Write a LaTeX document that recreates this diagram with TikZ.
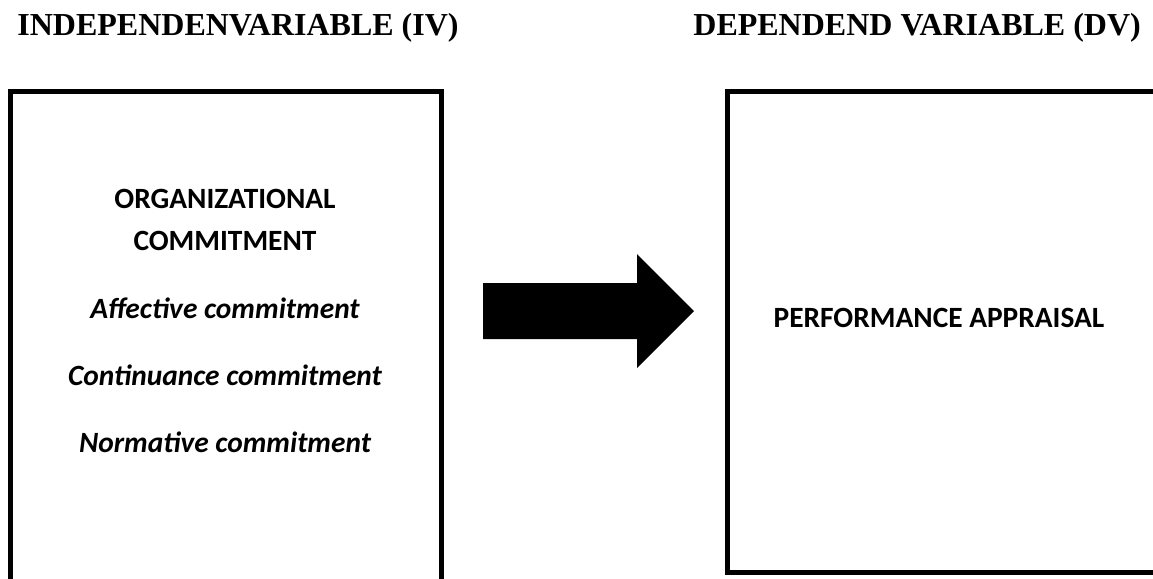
\documentclass[tikz,border=0pt]{standalone}
\usepackage{fontspec}
\setmainfont{Liberation Serif}
\newfontfamily\calib{Carlito}
\usetikzlibrary{positioning}

\tikzset{
  head/.style={anchor=base west,inner sep=0pt,font=\bfseries\fontsize{16}{19}\selectfont},
  item/.style={anchor=base,inner sep=0pt,font=\calib\bfseries\fontsize{14.7}{18}\selectfont},
  itemit/.style={item,font=\calib\bfseries\itshape\fontsize{14.7}{18}\selectfont},
  frame/.style={draw,line width=2.5pt}
}

\begin{document}
\begin{tikzpicture}[x=0.5pt,y=-0.5pt]
    \useasboundingbox (0,0) rectangle (1153,579);
    \clip (0,0) rectangle (1153,579);

    % headings
    \node[head] (ivhead) at (17,35) {INDEPENDENVARIABLE (IV)};
    \node[head] (dvhead) at (693,35) {DEPENDEND VARIABLE (DV)};

    % boxes (run past the page edge)
    \draw[frame] (10,91) rectangle (441,640);
    \draw[frame] (727,91) rectangle (1190,572);

    % IV box text
    \node[item] (org) at (225,208) {ORGANIZATIONAL};
    \node[item] (commit) at (225,250) {COMMITMENT};
    \node[itemit] (affective) at (225,318) {Affective commitment};
    \node[itemit] (continuance) at (225,385) {Continuance commitment};
    \node[itemit] (normative) at (225,452) {Normative commitment};

    % DV box text
    \node[item] (perf) at (939,327) {PERFORMANCE APPRAISAL};

    % block arrow
    \fill (483,283) -- (637,283) -- (637,254) -- (694,311) -- (637,368)
        -- (637,339) -- (483,339) -- cycle;
\end{tikzpicture}
\end{document}
